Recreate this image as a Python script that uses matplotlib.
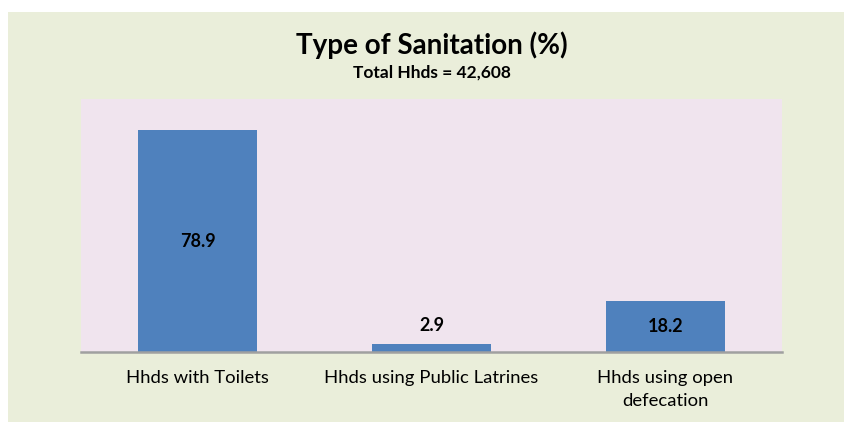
import matplotlib.pyplot as plt
from matplotlib.patches import Rectangle

plt.rcParams['font.family'] = ['Lato', 'DejaVu Sans']

# data
categories = ['Hhds with Toilets', 'Hhds using Public Latrines', 'Hhds using open\ndefecation']
values = [78.9, 2.9, 18.2]
labels = ['78.9', '2.9', '18.2']

fig = plt.figure(figsize=(8.45, 4.22), dpi=100)
fig.patch.set_facecolor('#EAEEDA')
# white margin strips at top and left of the green chart area
fig.patches.append(Rectangle((0, 1 - 12/422), 1, 12/422, transform=fig.transFigure,
                             facecolor='white', edgecolor='none', zorder=-10))
fig.patches.append(Rectangle((0, 0), 8/845, 1, transform=fig.transFigure,
                             facecolor='white', edgecolor='none', zorder=-10))

ax = fig.add_axes([81/845, 1 - 352/422, 701/845, 253/422])
ax.set_zorder(1)
ax.set_facecolor('#F0E4EE')

x = range(len(values))
bars = ax.bar(x, values, width=0.51, color='#4F81BD', zorder=2)

ax.set_xlim(-0.5, 2.5)
ax.set_ylim(0, 90)

# value labels: inside centre for large bars, above for the small one
for i, v in enumerate(values):
    if v > 10:
        ax.text(i, v / 2, labels[i], ha='center', va='center', fontsize=13, fontweight='bold')
    else:
        ax.text(i, v + 3.5, labels[i], ha='center', va='bottom', fontsize=13, fontweight='bold')

ax.set_xticks(list(x))
ax.set_xticklabels(categories, fontsize=13.3, linespacing=1.55)
ax.tick_params(axis='x', length=0, pad=13)
ax.set_yticks([])
for s in ['top', 'right', 'left']:
    ax.spines[s].set_visible(False)
ax.spines['bottom'].set_color('#A0A0A0')
ax.spines['bottom'].set_linewidth(1.8)

fig.text(432/845, 1 - 45/422, 'Type of Sanitation (%)', ha='center', va='center',
         fontsize=20, fontweight='bold')
fig.text(432/845, 1 - 73/422, 'Total Hhds = 42,608', ha='center', va='center',
         fontsize=12.5, fontweight='bold')

plt.savefig('out.png', dpi=100)
plt.close()
